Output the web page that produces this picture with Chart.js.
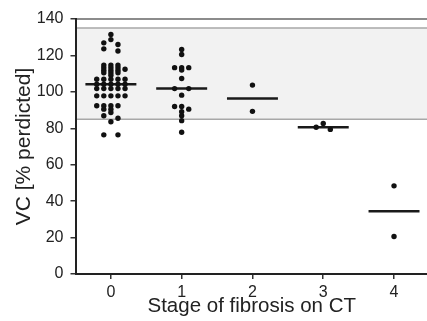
<!DOCTYPE html>
<html>
<head>
<meta charset="utf-8">
<script src="https://cdn.jsdelivr.net/npm/chart.js@4.4.0/dist/chart.umd.min.js"></script>
<style>
  html, body { margin: 0; padding: 0; background: #fff; overflow: hidden; }
  #wrap { width: 432px; height: 321px; }
</style>
</head>
<body>
<div id="wrap"><canvas id="c"></canvas></div>
<script>
// 分期 (x 軸類別)
const stages = [0, 1, 2, 3, 4];
// 各期 VC 數值 (% predicted)
const stage0Values = [131.5, 128.7, 126.9, 126.0, 123.6, 122.4, 114.7, 114.7, 114.7, 113.3, 113.3, 113.3, 112.4, 111.8, 111.8, 111.8, 110.5, 110.5, 110.5, 109.1, 106.9, 106.9, 106.9, 106.9, 106.9, 104.2, 104.2, 104.2, 104.2, 104.2, 101.8, 101.8, 101.8, 101.8, 101.8, 97.8, 97.8, 97.8, 97.8, 97.8, 92.4, 92.4, 92.4, 92.4, 90.5, 90.5, 88.7, 86.9, 85.5, 83.6, 76.4, 76.4];
const stage0Jitter = [0, 0, -1, 1, -1, 1, -1, 0, 1, -1, 0, 1, 2, -1, 0, 1, -1, 0, 1, 0, -2, -1, 0, 1, 2, -2, -1, 0, 1, 2, -2, -1, 0, 1, 2, -2, -1, 0, 1, 2, -2, -1, 0, 1, -1, 0, 0, -1, 1, 0, -1, 1];
const stage1Values = [123.3, 120.5, 113.3, 113.3, 113.3, 112.0, 107.3, 101.8, 101.8, 98.2, 92.0, 92.0, 90.5, 89.1, 86.9, 84.2, 77.8];
const stage1Jitter = [0, 0, -1, 0, 1, 0, 0, -1, 1, 0, -1, 0, 1, 0, 0, 0, 0];
const stage2Values = [103.7, 89.3];
const stage2Jitter = [0, 0];
const stage3Values = [82.6, 80.6, 79.4];
const stage3Jitter = [0, -1, 1];
const stage4Values = [48.4, 20.6];
const stage4Jitter = [0, 0];
// 中位數
const medians = [104.2, 101.8, 96.4, 80.6, 34.5];
// 正常範圍 (灰色區帶)
const normalRange = [85, 135];
// y 軸標籤
const yLabels = [0, 20, 40, 60, 80, 100, 120, 140];

const allValues = [stage0Values, stage1Values, stage2Values, stage3Values, stage4Values];
const allJitter = [stage0Jitter, stage1Jitter, stage2Jitter, stage3Jitter, stage4Jitter];

const jitterStep = 0.1; // 點的橫向間距 (x 軸單位)
const medianHalf = 0.36; // 中位數線半寬

const font = "'Liberation Sans', Arial, sans-serif";

// 散點資料
let points = [];
stages.forEach((s, i) => {
    allValues[i].forEach((v, j) => {
        points.push({ x: s + allJitter[i][j] * jitterStep, y: v });
    });
});

// 中位數線
let medianSets = stages.map((s, i) => ({
    type: 'line',
    data: [{ x: s - medianHalf, y: medians[i] }, { x: s + medianHalf, y: medians[i] }],
    borderColor: '#1a1a1a',
    borderWidth: 2.5,
    pointRadius: 0,
    showLine: true,
    fill: false
}));

// 灰色正常範圍區帶 + 外框線
const bandPlugin = {
    id: 'band',
    beforeDraw(chart) {
        const { ctx, chartArea: a, scales: { y } } = chart;
        const top = y.getPixelForValue(normalRange[1]);
        const bot = y.getPixelForValue(normalRange[0]);
        ctx.save();
        ctx.fillStyle = '#f2f2f2';
        ctx.fillRect(a.left, top, a.right - a.left, bot - top);
        ctx.strokeStyle = '#a8a8a8';
        ctx.lineWidth = 1.5;
        ctx.beginPath();
        ctx.moveTo(a.left, top); ctx.lineTo(a.right, top);
        ctx.moveTo(a.left, bot); ctx.lineTo(a.right, bot);
        ctx.stroke();
        ctx.strokeStyle = '#8c8c8c';
        ctx.lineWidth = 2;
        const yMax = y.getPixelForValue(y.max);
        ctx.beginPath();
        ctx.moveTo(a.left, yMax); ctx.lineTo(a.right, yMax);
        ctx.stroke();
        ctx.restore();
    }
};

let config = {
    type: 'scatter',
    data: {
        datasets: [{
            data: points,
            backgroundColor: '#111',
            borderWidth: 0,
            pointRadius: 2.7
        }, ...medianSets]
    },
    options: {
        responsive: true,
        maintainAspectRatio: false,
        animation: false,
        layout: { padding: { top: 19, right: 0, bottom: 0, left: 0 } },
        plugins: {
            legend: { display: false },
            tooltip: { enabled: false }
        },
        scales: {
            x: {
                type: 'linear',
                min: -0.5,
                max: 4.48,
                afterFit: (scale) => {
                    scale.height = 47;
                    scale.paddingLeft = 0;
                    scale.paddingRight = 0;
                },
                afterBuildTicks: (scale) => { scale.ticks = stages.map(v => ({ value: v })); },
                grid: { drawOnChartArea: false, drawTicks: true, tickLength: 5, color: '#333', lineWidth: 1.5 },
                border: { display: true, color: '#222', width: 2 },
                ticks: { color: '#222', font: { family: font, size: 16 }, padding: 4, maxRotation: 0 },
                title: {
                    display: true,
                    text: 'Stage of fibrosis on CT',
                    color: '#222',
                    font: { family: font, size: 20.5 },
                    padding: { top: 0, bottom: 2 }
                }
            },
            y: {
                min: 0,
                max: 140,
                afterFit: (scale) => { scale.width = 75.5; },
                ticks: {
                    stepSize: 10,
                    color: '#222',
                    font: { family: font, size: 16 },
                    padding: 7,
                    callback: (v) => yLabels.includes(v) ? String(v) : ''
                },
                grid: { drawOnChartArea: false, drawTicks: true, tickLength: 5, color: '#333', lineWidth: 1.5 },
                border: { display: true, color: '#222', width: 2 },
                title: {
                    display: true,
                    text: 'VC [% perdicted]',
                    color: '#222',
                    font: { family: font, size: 21 },
                    padding: { top: 12, bottom: 0 }
                }
            }
        }
    },
    plugins: [bandPlugin]
};

new Chart(document.getElementById('c'), config);
</script>
</body>
</html>
